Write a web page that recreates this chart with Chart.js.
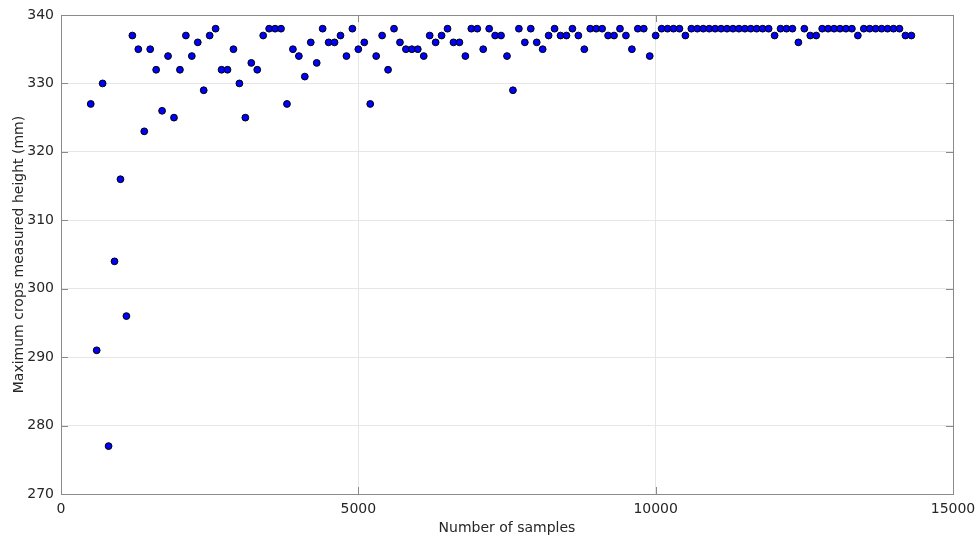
<!DOCTYPE html>
<html>
<head>
<meta charset="utf-8">
<script src="https://cdn.jsdelivr.net/npm/chart.js@4/dist/chart.umd.min.js"></script>
<style>
  html, body { margin: 0; padding: 0; background: #ffffff; }
  #wrap { width: 979px; height: 537px; }
</style>
</head>
<body>
<div id="wrap"><canvas id="chart" width="979" height="537"></canvas></div>
<script>
// Sample counts (x) and the corresponding maximum measured crop height (y, mm)
const sampleCounts = [
  500, 600, 700, 800, 900, 1000, 1100, 1200, 1300, 1400,
  1500, 1600, 1700, 1800, 1900, 2000, 2100, 2200, 2300, 2400,
  2500, 2600, 2700, 2800, 2900, 3000, 3100, 3200, 3300, 3400,
  3500, 3600, 3700, 3800, 3900, 4000, 4100, 4200, 4300, 4400,
  4500, 4600, 4700, 4800, 4900, 5000, 5100, 5200, 5300, 5400,
  5500, 5600, 5700, 5800, 5900, 6000, 6100, 6200, 6300, 6400,
  6500, 6600, 6700, 6800, 6900, 7000, 7100, 7200, 7300, 7400,
  7500, 7600, 7700, 7800, 7900, 8000, 8100, 8200, 8300, 8400,
  8500, 8600, 8700, 8800, 8900, 9000, 9100, 9200, 9300, 9400,
  9500, 9600, 9700, 9800, 9900, 10000, 10100, 10200, 10300, 10400,
  10500, 10600, 10700, 10800, 10900, 11000, 11100, 11200, 11300, 11400,
  11500, 11600, 11700, 11800, 11900, 12000, 12100, 12200, 12300, 12400,
  12500, 12600, 12700, 12800, 12900, 13000, 13100, 13200, 13300, 13400,
  13500, 13600, 13700, 13800, 13900, 14000, 14100, 14200, 14300
];

const maxHeights = [
  327, 291, 330, 277, 304, 316, 296, 337, 335, 323,
  335, 332, 326, 334, 325, 332, 337, 334, 336, 329,
  337, 338, 332, 332, 335, 330, 325, 333, 332, 337,
  338, 338, 338, 327, 335, 334, 331, 336, 333, 338,
  336, 336, 337, 334, 338, 335, 336, 327, 334, 337,
  332, 338, 336, 335, 335, 335, 334, 337, 336, 337,
  338, 336, 336, 334, 338, 338, 335, 338, 337, 337,
  334, 329, 338, 336, 338, 336, 335, 337, 338, 337,
  337, 338, 337, 335, 338, 338, 338, 337, 337, 338,
  337, 335, 338, 338, 334, 337, 338, 338, 338, 338,
  337, 338, 338, 338, 338, 338, 338, 338, 338, 338,
  338, 338, 338, 338, 338, 337, 338, 338, 338, 336,
  338, 337, 337, 338, 338, 338, 338, 338, 338, 337,
  338, 338, 338, 338, 338, 338, 338, 337, 337
];

const xTicks = [0, 5000, 10000, 15000];
const yTicks = [270, 280, 290, 300, 310, 320, 330, 340];

const xLabel = 'Number of samples';
const yLabel = 'Maximum crops measured height (mm)';

const points = sampleCounts.map((x, i) => ({ x: x, y: maxHeights[i] }));

const FONT = 'DejaVu Sans';
const TEXT_COLOR = '#262626';
const FRAME_COLOR = '#8a8a8a';
const GRID_COLOR = '#e6e6e6';

// Box around the axes plus short tick marks pointing inward on all four sides
const frameTicks = {
  id: 'frameTicks',
  afterDatasetsDraw(chart) {
    const { ctx, chartArea: a, scales } = chart;
    const len = 7;
    ctx.save();
    ctx.strokeStyle = FRAME_COLOR;
    ctx.lineWidth = 1;
    ctx.beginPath();
    scales.x.ticks.forEach(t => {
      const px = Math.round(scales.x.getPixelForValue(t.value)) + 0.5;
      ctx.moveTo(px, a.bottom); ctx.lineTo(px, a.bottom - len);
      ctx.moveTo(px, a.top); ctx.lineTo(px, a.top + len);
    });
    scales.y.ticks.forEach(t => {
      const py = Math.round(scales.y.getPixelForValue(t.value)) + 0.5;
      ctx.moveTo(a.left, py); ctx.lineTo(a.left + len, py);
      ctx.moveTo(a.right, py); ctx.lineTo(a.right - len, py);
    });
    ctx.stroke();
    ctx.strokeRect(Math.round(a.left) + 0.5, Math.round(a.top) + 0.5,
                   Math.round(a.right - a.left), Math.round(a.bottom - a.top));
    ctx.restore();
  }
};

new Chart(document.getElementById('chart'), {
  type: 'scatter',
  data: {
    datasets: [{
      data: points,
      backgroundColor: '#0000ff',
      borderColor: '#000000',
      borderWidth: 1,
      pointRadius: 3.4,
      pointHoverRadius: 3.4
    }]
  },
  options: {
    responsive: false,
    animation: false,
    events: [],
    layout: { padding: { left: 0, right: 26, top: 15, bottom: 0 } },
    plugins: {
      legend: { display: false },
      tooltip: { enabled: false }
    },
    scales: {
      x: {
        type: 'linear',
        min: 0,
        max: 15000,
        afterBuildTicks(scale) { scale.ticks = xTicks.map(v => ({ value: v })); },
        afterFit(scale) {
          scale.height = 43;
          scale.paddingLeft = 0;
          scale.paddingRight = 0;
        },
        grid: { color: GRID_COLOR, drawTicks: false, drawOnChartArea: true },
        border: { display: false },
        ticks: {
          padding: 7,
          color: TEXT_COLOR,
          font: { family: FONT, size: 14 },
          maxRotation: 0,
          callback: v => String(v)
        },
        title: {
          display: true,
          text: xLabel,
          color: TEXT_COLOR,
          font: { family: FONT, size: 14 },
          padding: { top: 2, bottom: 0 }
        }
      },
      y: {
        type: 'linear',
        min: 270,
        max: 340,
        afterBuildTicks(scale) { scale.ticks = yTicks.map(v => ({ value: v })); },
        afterFit(scale) {
          scale.width = 61;
          scale.paddingTop = 0;
          scale.paddingBottom = 0;
        },
        grid: { color: GRID_COLOR, drawTicks: false, drawOnChartArea: true },
        border: { display: false },
        ticks: {
          padding: 7,
          color: TEXT_COLOR,
          font: { family: FONT, size: 14 },
          callback: v => String(v)
        },
        title: {
          display: true,
          text: yLabel,
          color: TEXT_COLOR,
          font: { family: FONT, size: 14 },
          padding: { top: 11, bottom: 0 }
        }
      }
    }
  },
  plugins: [frameTicks]
});
</script>
</body>
</html>
